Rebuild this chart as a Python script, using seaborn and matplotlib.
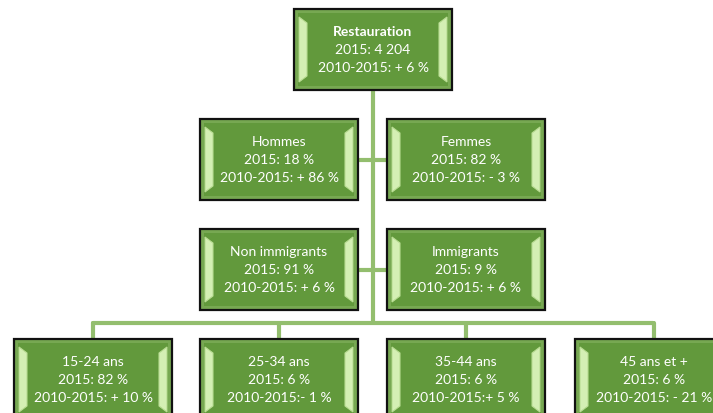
import matplotlib
matplotlib.use("Agg")
import matplotlib.pyplot as plt
from matplotlib.patches import Rectangle, Polygon
import seaborn as sns

# node data
names = ["Restauration", "Hommes", "Femmes", "Non immigrants", "Immigrants",
         "15-24 ans", "25-34 ans", "35-44 ans", "45 ans et +"]
share_2015 = ["4 204", "18 %", "82 %", "91 %", "9 %", "82 %", "6 %", "6 %", "6 %"]
change_2010_2015 = [": + 6 %", ": + 86 %", ": - 3 %", ": + 6 %", ": + 6 %",
                    ": + 10 %", ":- 1 %", ":+ 5 %", ": - 21 %"]

# layout (pixel coords of box left/top)
box_x = [294, 200, 387, 200, 387, 14, 200, 387, 575]
box_y = [10, 120, 120, 230, 230, 340, 340, 340, 340]
BW, BH = 158, 81

sns.set_theme(style="white")
plt.rcParams['font.family'] = ['Lato', 'DejaVu Sans']

fig = plt.figure(figsize=(7.13, 4.14), dpi=100)
ax = fig.add_axes([0, 0, 1, 1])
ax.set_xlim(0, 713)
ax.set_ylim(414, 0)
ax.axis("off")

line_c = "#93BE6E"
lw = 3
# connectors
ax.plot([373, 373], [92, 324], color=line_c, lw=lw, zorder=1)
ax.plot([358, 387], [161, 161], color=line_c, lw=lw, zorder=1)
ax.plot([358, 387], [271, 271], color=line_c, lw=lw, zorder=1)
ax.plot([93, 653], [324, 324], color=line_c, lw=lw, zorder=1)
for i in range(5, 9):
    cx = box_x[i] + BW / 2
    ax.plot([cx, cx], [324, box_y[i]], color=line_c, lw=lw, zorder=1)


def draw_box(x, y):
    ax.add_patch(Rectangle((x, y), BW, BH, facecolor="#77A852", edgecolor="#111111",
                           lw=1.6, zorder=2))
    ax.add_patch(Rectangle((x + 4, y + 4), BW - 8, BH - 8, facecolor="#62993C",
                           edgecolor="none", zorder=3))
    # light bevel strips left and right
    for sx, d in [(x + 5, 1), (x + BW - 5, -1)]:
        pts = [(sx, y + 8), (sx + d * 8, y + 14), (sx + d * 8, y + BH - 14), (sx, y + BH - 8)]
        ax.add_patch(Polygon(pts, closed=True, facecolor="#D4EFB4", edgecolor="#B8DC92",
                             lw=0.8, zorder=4))


for i in range(len(names)):
    draw_box(box_x[i], box_y[i])
    cx = box_x[i] + BW / 2
    cy = box_y[i] + BH / 2
    ax.text(cx, cy - 18, names[i], ha="center", va="center", color="white", fontsize=10,
            fontweight="bold" if i == 0 else "normal", zorder=5)
    ax.text(cx, cy, "2015: " + share_2015[i], ha="center", va="center", color="white",
            fontsize=10, zorder=5)
    ax.text(cx, cy + 18, "2010-2015" + change_2010_2015[i], ha="center", va="center",
            color="white", fontsize=10, zorder=5)

fig.savefig("out.png", dpi=100)
